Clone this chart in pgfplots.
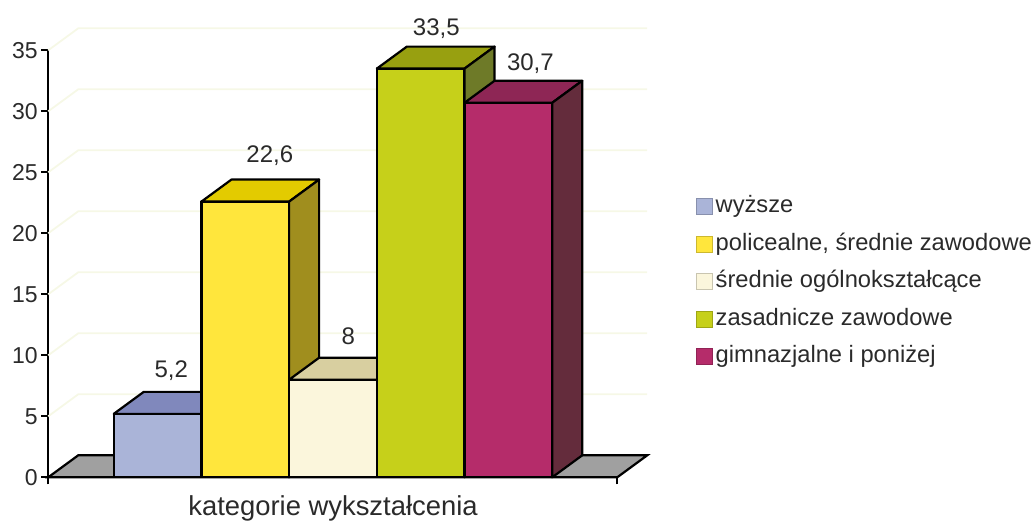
\documentclass[border=0pt]{standalone}
\usepackage{pgfplots}
\pgfplotsset{compat=1.18}
\usepackage{fontspec}
\setmainfont{Liberation Sans}
\definecolor{tx}{HTML}{2A2A2A}
\definecolor{gridc}{HTML}{F6F8E6}
\definecolor{floorc}{HTML}{A0A0A0}
\definecolor{af}{HTML}{AAB4D8}\definecolor{at}{HTML}{8088BC}
\definecolor{bf}{HTML}{FFE63C}\definecolor{bt}{HTML}{E3CB00}\definecolor{bs}{HTML}{A08E1E}
\definecolor{cf}{HTML}{FBF6DC}\definecolor{ct}{HTML}{D8CFA0}\definecolor{cs}{HTML}{B0A880}
\definecolor{df}{HTML}{C6D01A}\definecolor{dt}{HTML}{98A010}\definecolor{ds}{HTML}{6E7A28}
\definecolor{ef}{HTML}{B52C6A}\definecolor{et}{HTML}{8E2655}\definecolor{es}{HTML}{642C3C}
\pgfplotstableread[col sep=comma]{
x,y,label
0.655,8.77,{5,2}
1.780,26.40,{22,6}
2.674,11.55,{8}
3.678,36.74,{33,5}
4.751,33.94,{30,7}
}\labeltable
\begin{document}
\begin{tikzpicture}[x=1pt,y=1pt]
\useasboundingbox (0,0) rectangle (1035,520);
\begin{axis}[
  at={(55,35)},anchor=south west,
  scale only axis,
  x=87.7pt,y=12.2pt,
  xmin=-0.747,xmax=5.741,ymin=0,ymax=35,
  clip=false,
  axis y line*=left,axis x line*=bottom,
  axis line style={black,line width=2.2pt,-},
  xtick={-0.747,5.741},xticklabels={},
  ytick={0,5,10,15,20,25,30,35},
  tick style={black,line width=1.8pt},
  tick align=outside,
  major tick length=7pt,
  yticklabel style={font=\fontsize{23}{23}\selectfont,text=tx,/pgf/number format/assume math mode=true},
  legend cell align=left,
  legend image code/.code={\path[#1] (0pt,-7.5pt) rectangle (16pt,8.5pt);},
  legend style={draw=none,fill=none,at={(axis cs:6.64,23.0)},anchor=north west,
    font=\fontsize{23.7}{23.7}\selectfont,
    row sep=16.5pt,
    inner sep=0pt,outer sep=0pt,
    nodes={text height=16pt,text depth=5pt,inner ysep=0pt,inner xsep=3pt,text=tx}},
]
% back wall grid lines
\addplot[gridc,line width=1.8pt,forget plot] coordinates {(-0.747,5)(-0.405,6.803)(6.083,6.803)};
\addplot[gridc,line width=1.8pt,forget plot] coordinates {(-0.747,10)(-0.405,11.803)(6.083,11.803)};
\addplot[gridc,line width=1.8pt,forget plot] coordinates {(-0.747,15)(-0.405,16.803)(6.083,16.803)};
\addplot[gridc,line width=1.8pt,forget plot] coordinates {(-0.747,20)(-0.405,21.803)(6.083,21.803)};
\addplot[gridc,line width=1.8pt,forget plot] coordinates {(-0.747,25)(-0.405,26.803)(6.083,26.803)};
\addplot[gridc,line width=1.8pt,forget plot] coordinates {(-0.747,30)(-0.405,31.803)(6.083,31.803)};
\addplot[gridc,line width=1.8pt,forget plot] coordinates {(-0.747,35)(-0.405,36.803)(6.083,36.803)};
% floor
\addplot[fill=floorc,draw=black,line width=2.2pt,forget plot] coordinates {(-0.747,0)(-0.405,1.803)(6.083,1.803)(5.741,0)} --cycle;
% bar 1: 5.2
\addplot[fill=af,draw=black,line width=2.2pt,line join=round,forget plot] coordinates {(0,0)(1,0)(1,5.2)(0,5.2)} --cycle;
\addplot[fill=at,draw=black,line width=2.2pt,line join=round,forget plot] coordinates {(0,5.2)(1,5.2)(1.342,7.003)(0.342,7.003)} --cycle;
% bar 2: 22.6
\addplot[fill=bf,draw=black,line width=2.2pt,line join=round,forget plot] coordinates {(1,0)(2,0)(2,22.6)(1,22.6)} --cycle;
\addplot[fill=bt,draw=black,line width=2.2pt,line join=round,forget plot] coordinates {(1,22.6)(2,22.6)(2.342,24.403)(1.342,24.403)} --cycle;
\addplot[fill=bs,draw=black,line width=2.2pt,line join=round,forget plot] coordinates {(2,0)(2.342,1.803)(2.342,24.403)(2,22.6)} --cycle;
% bar 3: 8
\addplot[fill=cf,draw=black,line width=2.2pt,line join=round,forget plot] coordinates {(2,0)(3,0)(3,8)(2,8)} --cycle;
\addplot[fill=ct,draw=black,line width=2.2pt,line join=round,forget plot] coordinates {(2,8)(3,8)(3.342,9.803)(2.342,9.803)} --cycle;
% bar 4: 33.5
\addplot[fill=df,draw=black,line width=2.2pt,line join=round,forget plot] coordinates {(3,0)(4,0)(4,33.5)(3,33.5)} --cycle;
\addplot[fill=dt,draw=black,line width=2.2pt,line join=round,forget plot] coordinates {(3,33.5)(4,33.5)(4.342,35.303)(3.342,35.303)} --cycle;
\addplot[fill=ds,draw=black,line width=2.2pt,line join=round,forget plot] coordinates {(4,0)(4.342,1.803)(4.342,35.303)(4,33.5)} --cycle;
% bar 5: 30.7
\addplot[fill=ef,draw=black,line width=2.2pt,line join=round,forget plot] coordinates {(4,0)(5,0)(5,30.7)(4,30.7)} --cycle;
\addplot[fill=et,draw=black,line width=2.2pt,line join=round,forget plot] coordinates {(4,30.7)(5,30.7)(5.342,32.503)(4.342,32.503)} --cycle;
\addplot[fill=es,draw=black,line width=2.2pt,line join=round,forget plot] coordinates {(5,0)(5.342,1.803)(5.342,32.503)(5,30.7)} --cycle;
% value labels
\addplot[draw=none,forget plot,nodes near coords,point meta=explicit symbolic,
  nodes near coords align={center},
  every node near coord/.append style={font=\fontsize{24}{24}\selectfont,text=tx,anchor=center,inner sep=0pt}]
  table[x=x,y=y,meta=label,col sep=comma] {\labeltable};
% legend
\addlegendimage{fill=af,draw=af!80!black,line width=0.6pt}\addlegendentry{wyższe}
\addlegendimage{fill=bf,draw=bf!80!black,line width=0.6pt}\addlegendentry{policealne, średnie zawodowe}
\addlegendimage{fill=cf,draw=cf!80!black,line width=0.6pt}\addlegendentry{średnie ogólnokształcące}
\addlegendimage{fill=df,draw=df!80!black,line width=0.6pt}\addlegendentry{zasadnicze zawodowe}
\addlegendimage{fill=ef,draw=ef!80!black,line width=0.6pt}\addlegendentry{gimnazjalne i poniżej}
\node[font=\fontsize{27.4}{27.4}\selectfont,text=tx] at (axis cs:2.50,-2.55) {kategorie wykształcenia};
\end{axis}
\end{tikzpicture}
\end{document}
